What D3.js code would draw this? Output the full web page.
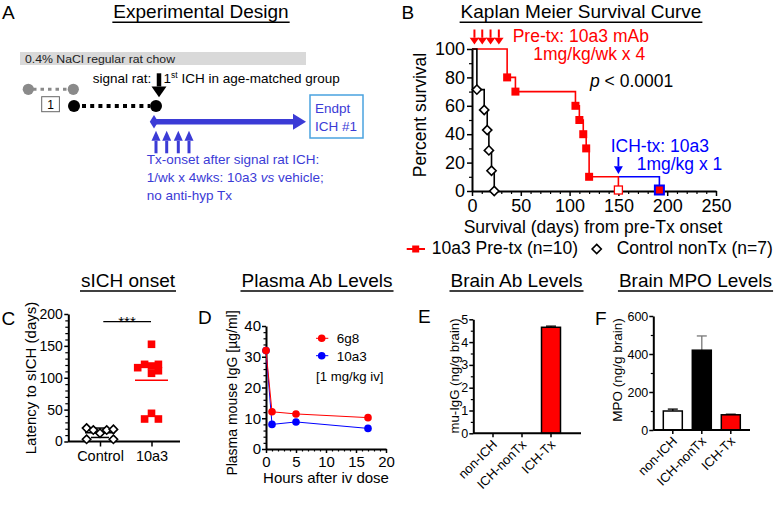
<!DOCTYPE html>
<html><head><meta charset="utf-8">
<script src="https://cdn.jsdelivr.net/npm/d3@7"></script>
<style>body{margin:0;background:#fff} svg{display:block} text{font-family:"Liberation Sans",Arial,sans-serif}</style>
</head><body><svg id="c" width="779" height="505"></svg>
<script>
// ---------------- DATA ----------------
// B: Kaplan-Meier
const kmPreDays  = [0, 36, 44.5, 106, 110, 114, 117, 120, 150];
const kmPreSurv  = [100, 80, 70, 60, 50, 40, 30, 10, 0];
const kmIchDays  = [150, 192];
const kmIchSurv  = [10, 0];
const kmCtrlDays = [0, 5, 12.5, 15.6, 17.3, 20, 22.8];
const kmCtrlSurv = [100, 71.4, 57.1, 42.9, 28.6, 14.3, 0];
const preTxDoseDays = [2.5, 10.5, 19, 27.5];
const ichTxDoseDays = [150];
const kmXTicks = [0, 50, 100, 150, 200, 250];
const kmYTicks = [0, 20, 40, 60, 80, 100];
// C: sICH onset
const sichGroups = ["Control", "10a3"];
const sichControl = [21, 18, 13, 18, 19, 3.5, 3.5];
const sich10a3 = [152.5, 115.8, 121, 118.4, 121, 107, 111, 44.2, 35.3, 35.3];
const sichTicks = [0, 50, 100, 150, 200];
// D: plasma Ab levels
const pkHours = [0, 1, 5, 17];
const pk6g8  = [32, 12.1, 11.4, 10.2];
const pk10a3 = [32, 8.0, 8.8, 6.7];
const pkXTicks = [0, 5, 10, 15, 20];
const pkYTicks = [0, 10, 20, 30, 40];
// E/F: brain levels
const brainGroups = ["non-ICH", "ICH-nonTx", "ICH-Tx"];
const brainAb = [0, 0, 4.65];
const brainAbErr = [0, 0, 0.05];
const brainAbTicks = [0, 1, 2, 3, 4, 5];
const brainMpo = [100, 420, 80];
const brainMpoErr = [10, 75, 3];
const brainMpoTicks = [0, 200, 400, 600];

// ---------------- HELPERS ----------------
const FF = '"Liberation Sans",Arial,sans-serif';
const RED = "#ff0000", BLUE = "#0000ff", DBLUE = "#3b3bd6";
const fmtInt = d3.format("d");
const svg = d3.select("#c");
svg.append("rect").attr("width", 779).attr("height", 505).attr("fill", "#fff");

function styleAxis(g, fs) {
  g.attr("font-family", FF);
  g.select(".domain").attr("stroke", "#000").attr("stroke-width", 2);
  g.selectAll(".tick line").attr("stroke", "#000").attr("stroke-width", 1.5);
  g.selectAll(".tick text").attr("font-size", fs).attr("fill", "#000");
}
function minor(g) {
  g.select(".domain").remove();
  g.selectAll("text").remove();
  g.selectAll(".tick line").attr("stroke", "#000").attr("stroke-width", 1.2);
}
function title(txt, cx, y, fs) {
  const t = svg.append("text").attr("x", cx).attr("y", y).attr("text-anchor", "middle")
    .attr("font-size", fs).attr("fill", "#000").text(txt);
  const w = t.node().getComputedTextLength();
  svg.append("line").attr("x1", cx - w / 2 - 1).attr("x2", cx + w / 2 + 1)
    .attr("y1", y + 4).attr("y2", y + 4).attr("stroke", "#000").attr("stroke-width", 1.5);
}
function letter(l, x, y) {
  svg.append("text").attr("x", x).attr("y", y).attr("font-size", 19).attr("fill", "#000").text(l);
}
function ylabel(txt, x, cy, fs) {
  svg.append("text").attr("transform", `translate(${x},${cy}) rotate(-90)`)
    .attr("text-anchor", "middle").attr("font-size", fs).attr("fill", "#000").text(txt);
}
function tri(g, x, yTop, yTip, w, col, shaftW) {
  const dir = yTip > yTop ? 1 : -1;
  const headLen = Math.abs(yTip - yTop) * 0.45;
  g.append("line").attr("x1", x).attr("x2", x).attr("y1", yTop).attr("y2", yTip - dir * headLen)
    .attr("stroke", col).attr("stroke-width", shaftW);
  g.append("path").attr("d", `M${x - w / 2},${yTip - dir * headLen}L${x + w / 2},${yTip - dir * headLen}L${x},${yTip}Z`).attr("fill", col);
}
function diam(g, x, y, s) {
  g.append("path").attr("d", `M${x},${y - s}L${x + s},${y}L${x},${y + s}L${x - s},${y}Z`)
    .attr("fill", "#fff").attr("stroke", "#000").attr("stroke-width", 1.6);
}

// ---------------- A: Experimental design ----------------
letter("A", 2, 18.5);
title("Experimental Design", 201, 18.3, 19);
const A = svg.append("g");
A.append("rect").attr("x", 20).attr("y", 52).attr("width", 286).attr("height", 13).attr("fill", "#d9d9d9");
A.append("text").attr("x", 25).attr("y", 62.5).attr("font-family", '"Open Sans",sans-serif').attr("font-size", 11.5)
  .attr("textLength", 150).attr("lengthAdjust", "spacingAndGlyphs").attr("fill", "#222").text("0.4% NaCl regular rat chow");
A.append("line").attr("x1", 33).attr("x2", 69).attr("y1", 89.3).attr("y2", 89.3).attr("stroke", "#8a8a8a")
  .attr("stroke-width", 3).attr("stroke-dasharray", "3.5,4");
[28.3, 73.3].forEach(x => A.append("circle").attr("cx", x).attr("cy", 89.3).attr("r", 5.6).attr("fill", "#8a8a8a"));
A.append("rect").attr("x", 41.7).attr("y", 96.7).attr("width", 17.7).attr("height", 15).attr("fill", "#fff").attr("stroke", "#666");
A.append("text").attr("x", 50.5).attr("y", 108.7).attr("text-anchor", "middle").attr("font-size", 12).text("1");
A.append("line").attr("x1", 82).attr("x2", 150).attr("y1", 106).attr("y2", 106).attr("stroke", "#000")
  .attr("stroke-width", 4).attr("stroke-dasharray", "4,4.2");
[74, 156].forEach(x => A.append("circle").attr("cx", x).attr("cy", 106).attr("r", 6).attr("fill", "#000"));
A.append("text").attr("x", 92.7).attr("y", 83.3).attr("font-size", 13.5).text("signal rat:");
const t1 = A.append("text").attr("x", 163.5).attr("y", 83.3).attr("font-size", 13.5);
t1.append("tspan").text("1");
t1.append("tspan").attr("font-size", 8.5).attr("dy", -5).text("st");
t1.append("tspan").attr("dy", 5).text(" ICH in age-matched group");
tri(A, 159, 73.3, 97.3, 15, "#000", 4.5);
A.append("line").attr("x1", 156).attr("x2", 295).attr("y1", 121.7).attr("y2", 121.7).attr("stroke", DBLUE).attr("stroke-width", 5.5);
A.append("path").attr("d", "M293,113.7L306,121.7L293,129.7Z").attr("fill", DBLUE);
A.append("path").attr("d", "M154,115L158.2,121.7L154,128.4L149.8,121.7Z").attr("fill", DBLUE);
[156, 166.7, 178.3, 189].forEach(x => tri(A, x, 153.3, 130.7, 9, DBLUE, 3));
A.append("rect").attr("x", 310).attr("y", 95).attr("width", 53).attr("height", 43).attr("fill", "#fff")
  .attr("stroke", "#4aa3df").attr("stroke-width", 1.5);
A.append("text").attr("x", 315).attr("y", 113.3).attr("font-size", 13.5).attr("fill", DBLUE).text("Endpt");
A.append("text").attr("x", 315).attr("y", 130.7).attr("font-size", 13.5).attr("fill", DBLUE).text("ICH #1");
A.append("text").attr("x", 146.7).attr("y", 164).attr("font-size", 13.5).attr("fill", DBLUE).text("Tx-onset after signal rat ICH:");
const t2 = A.append("text").attr("x", 146.7).attr("y", 182).attr("font-size", 13.5).attr("fill", DBLUE);
t2.append("tspan").text("1/wk x 4wks: 10a3 ");
t2.append("tspan").attr("font-style", "italic").text("vs");
t2.append("tspan").text(" vehicle;");
A.append("text").attr("x", 146.7).attr("y", 200).attr("font-size", 13.5).attr("fill", DBLUE).text("no anti-hyp Tx");

// ---------------- B: Kaplan-Meier ----------------
letter("B", 401.5, 18.5);
title("Kaplan Meier Survival Curve", 581, 18.3, 19);
const xB = d3.scaleLinear().domain([0, 250]).range([472, 716]);
const yB = d3.scaleLinear().domain([0, 100]).range([191, 49]);
const B = svg.append("g");
minor(B.append("g").attr("transform", "translate(472,0)").call(d3.axisLeft(yB).tickValues(d3.range(10, 100, 20)).tickSize(3)));
minor(B.append("g").attr("transform", "translate(0,191)").call(d3.axisBottom(xB).tickValues(d3.range(10, 250, 10).filter(d => d % 50)).tickSize(3)));
styleAxis(B.append("g").attr("transform", "translate(472,0)").call(d3.axisLeft(yB).tickValues(kmYTicks).tickSize(5).tickPadding(2).tickSizeOuter(0)), 18);
styleAxis(B.append("g").attr("transform", "translate(0,191)").call(d3.axisBottom(xB).tickValues(kmXTicks).tickSize(5).tickPadding(3).tickSizeOuter(0)), 18);
const stepLine = d3.line().x(d => xB(d[0])).y(d => yB(d[1])).curve(d3.curveStepAfter);
const ctrlPts = kmCtrlDays.map((d, i) => [d, kmCtrlSurv[i]]);
const prePts = kmPreDays.map((d, i) => [d, kmPreSurv[i]]);
const ichPts = kmIchDays.map((d, i) => [d, kmIchSurv[i]]);
B.append("path").attr("d", stepLine(ichPts)).attr("fill", "none").attr("stroke", BLUE).attr("stroke-width", 1.6);
B.append("path").attr("d", stepLine(prePts)).attr("fill", "none").attr("stroke", RED).attr("stroke-width", 1.6);
B.append("path").attr("d", stepLine(ctrlPts)).attr("fill", "none").attr("stroke", "#000").attr("stroke-width", 1.6);
ctrlPts.slice(1).forEach(p => diam(B, xB(p[0]), yB(p[1]), 4.6));
prePts.slice(1, -1).forEach(p => B.append("rect").attr("x", xB(p[0]) - 4).attr("y", yB(p[1]) - 4)
  .attr("width", 8).attr("height", 8).attr("fill", RED));
{ const p = prePts[prePts.length - 1];
  B.append("rect").attr("x", xB(p[0]) - 4).attr("y", yB(p[1]) - 5).attr("width", 8).attr("height", 8)
    .attr("fill", "#fff").attr("stroke", RED).attr("stroke-width", 1.3); }
{ const p = ichPts[ichPts.length - 1];
  B.append("rect").attr("x", xB(p[0]) - 4.5).attr("y", yB(p[1]) - 5.5).attr("width", 9).attr("height", 9)
    .attr("fill", RED).attr("stroke", BLUE).attr("stroke-width", 2); }
preTxDoseDays.forEach(d => tri(B, xB(d), 29.5, 44.5, 9.5, RED, 2));
ichTxDoseDays.forEach(d => tri(B, xB(d), 157, 174, 9, BLUE, 1.8));
B.append("text").attr("x", 512.7).attr("y", 41.7).attr("font-size", 17.5).attr("fill", RED).text("Pre-tx: 10a3 mAb");
B.append("text").attr("x", 533.3).attr("y", 60).attr("font-size", 17.5).attr("fill", RED).text("1mg/kg/wk x 4");
const pt = B.append("text").attr("x", 590).attr("y", 87.3).attr("font-size", 17.5).attr("fill", "#000");
pt.append("tspan").attr("font-style", "italic").text("p");
pt.append("tspan").text(" < 0.0001");
B.append("text").attr("x", 610.7).attr("y", 151.7).attr("font-size", 17.5).attr("fill", BLUE).text("ICH-tx: 10a3");
B.append("text").attr("x", 636.7).attr("y", 170).attr("font-size", 17.5).attr("fill", BLUE).text("1mg/kg x 1");
ylabel("Percent survival", 426, 115, 17.5);
B.append("text").attr("x", 593).attr("y", 233).attr("text-anchor", "middle").attr("font-size", 17.5).text("Survival (days) from pre-Tx onset");
B.append("line").attr("x1", 406.7).attr("x2", 425).attr("y1", 249).attr("y2", 249).attr("stroke", RED).attr("stroke-width", 2);
B.append("rect").attr("x", 412.2).attr("y", 245.5).attr("width", 7).attr("height", 7).attr("fill", RED);
B.append("text").attr("x", 431.7).attr("y", 253.5).attr("font-size", 17.5).text("10a3 Pre-tx (n=10)");
diam(B, 596.7, 249, 4.6);
B.append("text").attr("x", 616.7).attr("y", 253.5).attr("font-size", 17.5).text("Control nonTx (n=7)");

// ---------------- C: sICH onset ----------------
letter("C", 1.5, 325);
title("sICH onset", 128, 287, 19);
const xC = d3.scalePoint().domain(sichGroups).range([100, 151.5]);
const yC = d3.scaleLinear().domain([0, 200]).range([441.5, 314]);
const C = svg.append("g");
minor(C.append("g").attr("transform", "translate(68.3,0)").call(d3.axisLeft(yC).tickValues(d3.range(10, 200, 10).filter(d => d % 50)).tickSize(3)));
styleAxis(C.append("g").attr("transform", "translate(68.3,0)").call(d3.axisLeft(yC).tickValues(sichTicks).tickFormat(fmtInt).tickSize(4).tickPadding(1.5).tickSizeOuter(0)), 14);
const cxa = C.append("g").attr("transform", "translate(0,441.5)").call(d3.axisBottom(xC).tickSize(5).tickPadding(4).tickSizeOuter(0));
cxa.select(".domain").attr("d", "M68.3,0H180");
styleAxis(cxa, 14.5);
const jitC = [-2, -1, 0, 1, 2, -2, 2];
const jitT = [0, -2, -1, 0, 1, 0, 1, 0, -1, 1];
const mC = d3.mean(sichControl), sdC = d3.deviation(sichControl);
C.append("line").attr("x1", xC("Control") - 15).attr("x2", xC("Control") + 15).attr("y1", yC(mC)).attr("y2", yC(mC)).attr("stroke", "#000").attr("stroke-width", 1.5);
[mC - sdC, mC + sdC].forEach(v => C.append("line").attr("x1", xC("Control") - 9).attr("x2", xC("Control") + 9)
  .attr("y1", yC(v)).attr("y2", yC(v)).attr("stroke", "#000").attr("stroke-width", 1.5));
C.append("line").attr("x1", xC("Control")).attr("x2", xC("Control")).attr("y1", yC(mC - sdC)).attr("y2", yC(mC + sdC)).attr("stroke", "#000").attr("stroke-width", 1.5);
sichControl.forEach((v, i) => diam(C, xC("Control") + jitC[i] * 6.7, yC(v), 4.2));
sich10a3.forEach((v, i) => C.append("rect").attr("x", xC("10a3") + jitT[i] * 6.9 - 3.8).attr("y", yC(v) - 3.8)
  .attr("width", 7.6).attr("height", 7.6).attr("fill", RED));
const mT = d3.mean(sich10a3);
C.append("line").attr("x1", xC("10a3") - 16.5).attr("x2", xC("10a3") + 16.5).attr("y1", yC(mT)).attr("y2", yC(mT)).attr("stroke", RED).attr("stroke-width", 1.5);
C.append("line").attr("x1", 103.3).attr("x2", 151).attr("y1", 321.7).attr("y2", 321.7).attr("stroke", "#000").attr("stroke-width", 1.3);
C.append("text").attr("x", 127).attr("y", 327).attr("text-anchor", "middle").attr("font-size", 15).text("***");
ylabel("Latency to sICH (days)", 36, 378, 15);

// ---------------- D: Plasma Ab ----------------
letter("D", 198, 324);
title("Plasma Ab Levels", 317, 287, 19);
const xD = d3.scaleLinear().domain([0, 20]).range([266, 386]);
const yD = d3.scaleLinear().domain([0, 40]).range([449, 326]);
const D = svg.append("g");
minor(D.append("g").attr("transform", "translate(266,0)").call(d3.axisLeft(yD).tickValues(d3.range(2, 40, 2).filter(d => d % 10)).tickSize(2.5)));
minor(D.append("g").attr("transform", "translate(0,449)").call(d3.axisBottom(xD).tickValues(d3.range(1, 20, 1).filter(d => d % 5)).tickSize(2.5)));
styleAxis(D.append("g").attr("transform", "translate(266,0)").call(d3.axisLeft(yD).tickValues(pkYTicks).tickFormat(fmtInt).tickSize(4).tickPadding(1).tickSizeOuter(0)), 15);
styleAxis(D.append("g").attr("transform", "translate(0,449)").call(d3.axisBottom(xD).tickValues(pkXTicks).tickFormat(fmtInt).tickSize(4).tickPadding(3).tickSizeOuter(0)), 15);
const lineD = d3.line().x((d, i) => xD(pkHours[i])).y(d => yD(d));
D.append("path").attr("d", lineD(pk10a3)).attr("fill", "none").attr("stroke", BLUE).attr("stroke-width", 1);
D.append("path").attr("d", lineD(pk6g8)).attr("fill", "none").attr("stroke", RED).attr("stroke-width", 1);
pk10a3.forEach((v, i) => D.append("circle").attr("cx", xD(pkHours[i])).attr("cy", yD(v)).attr("r", 3.8).attr("fill", BLUE));
pk6g8.forEach((v, i) => D.append("circle").attr("cx", xD(pkHours[i])).attr("cy", yD(v)).attr("r", 3.8).attr("fill", RED));
[[RED, "6g8", 338.3], [BLUE, "10a3", 355.7]].forEach(([c, t, y]) => {
  D.append("line").attr("x1", 316).attr("x2", 328.3).attr("y1", y).attr("y2", y).attr("stroke", c).attr("stroke-width", 1);
  D.append("circle").attr("cx", 321.7).attr("cy", y).attr("r", 3.8).attr("fill", c);
  D.append("text").attr("x", 336.7).attr("y", y + 5).attr("font-size", 13.5).text(t);
});
D.append("text").attr("x", 316).attr("y", 380.5).attr("font-size", 13.2).text("[1 mg/kg iv]");
ylabel("Plasma mouse IgG [µg/ml]", 237, 393, 14);
D.append("text").attr("x", 326).attr("y", 483).attr("text-anchor", "middle").attr("font-size", 15).text("Hours after iv dose");

// ---------------- E & F: bars ----------------
function barPanel(opts) {
  const g = svg.append("g");
  const x = d3.scaleBand().domain(brainGroups).range(opts.xr).paddingInner(0.345).paddingOuter(0.1725);
  const y = d3.scaleLinear().domain(opts.yd).range(opts.yr);
  minor(g.append("g").attr("transform", `translate(${opts.ax},0)`).call(d3.axisLeft(y).tickValues(opts.minorT).tickSize(2.5)));
  styleAxis(g.append("g").attr("transform", `translate(${opts.ax},0)`).call(d3.axisLeft(y).tickValues(opts.ticks).tickFormat(fmtInt).tickSize(4).tickPadding(1).tickSizeOuter(0)), 12.5);
  opts.vals.forEach((v, i) => {
    const cxp = x(brainGroups[i]) + x.bandwidth() / 2;
    if (opts.err[i] > 0) {
      g.append("line").attr("x1", cxp).attr("x2", cxp).attr("y1", y(v)).attr("y2", y(v + opts.err[i]))
        .attr("stroke", opts.errCol[i]).attr("stroke-width", 1.3);
      g.append("line").attr("x1", cxp - 5).attr("x2", cxp + 5).attr("y1", y(v + opts.err[i])).attr("y2", y(v + opts.err[i]))
        .attr("stroke", opts.errCol[i]).attr("stroke-width", 1.3);
    }
    if (v > 0) g.append("rect").attr("x", x(brainGroups[i])).attr("y", y(v)).attr("width", x.bandwidth())
      .attr("height", y(0) - y(v)).attr("fill", opts.fill[i]).attr("stroke", "#000").attr("stroke-width", 1.5);
  });
  const xa = g.append("g").attr("transform", `translate(0,${opts.yr[0]})`).call(d3.axisBottom(x).tickSize(4).tickSizeOuter(0));
  xa.select(".domain").attr("d", `M${opts.ax},0H${opts.axEnd}`);
  styleAxis(xa, 13);
  xa.selectAll(".tick text").attr("text-anchor", "end").attr("dy", 0).attr("y", 0)
    .attr("transform", "translate(5,12) rotate(-45)");
  return { x, y };
}
letter("E", 418, 323.3);
title("Brain Ab Levels", 516.5, 287, 19);
barPanel({ xr: [478.5, 565.5], ax: 473.3, axEnd: 581, yd: [0, 5], yr: [433.3, 319.3], ticks: brainAbTicks,
  minorT: d3.range(0.5, 5, 1), vals: brainAb, err: brainAbErr, fill: ["#fff", "#000", RED], errCol: ["#000", "#000", "#000"] });
ylabel("mu-IgG (ng/g brain)", 459, 376, 13.2);
letter("F", 595, 325);
title("Brain MPO Levels", 695.5, 287, 19);
barPanel({ xr: [658.3, 745.3], ax: 653.3, axEnd: 750, yd: [0, 600], yr: [430, 316], ticks: brainMpoTicks,
  minorT: d3.range(100, 600, 200), vals: brainMpo, err: brainMpoErr, fill: ["#fff", "#000", RED], errCol: ["#000", "#777", "#000"] });
ylabel("MPO (ng/g brain)", 621.5, 370, 13.5);
</script></body></html>
